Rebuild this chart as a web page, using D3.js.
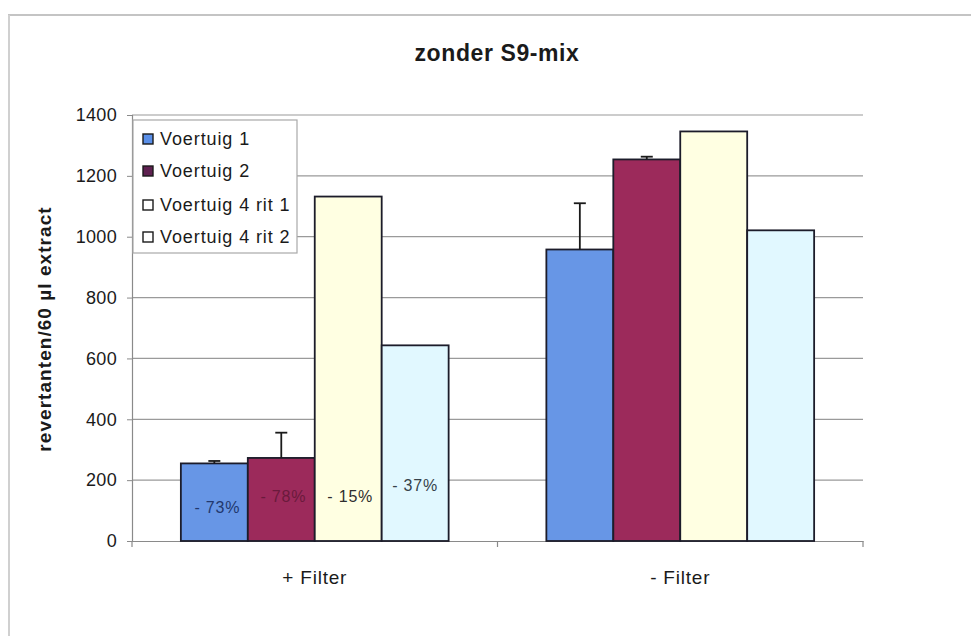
<!DOCTYPE html>
<html>
<head>
<meta charset="utf-8">
<script src="https://cdn.jsdelivr.net/npm/d3@7"></script>
<style>
  html, body { margin: 0; padding: 0; background: #fff; }
  svg { display: block; font-family: "Liberation Sans", Arial, sans-serif; }
</style>
</head>
<body>
<svg id="chart" width="971" height="636"></svg>
<script>
// Revertanten per 60 µl extract, with and without filter
const categories = ["+ Filter", "- Filter"];
const seriesNames = ["Voertuig 1", "Voertuig 2", "Voertuig 4 rit 1", "Voertuig 4 rit 2"];
const voertuig1 = [255, 958];
const voertuig2 = [273, 1254];
const voertuig4rit1 = [1132, 1346];
const voertuig4rit2 = [643, 1021];
// upper end of the error bar (null = no error bar)
const voertuig1Err = [263, 1110];
const voertuig2Err = [356, 1263];
const voertuig4rit1Err = [null, null];
const voertuig4rit2Err = [null, null];
// reduction labels shown in the "+ Filter" group
const reductionLabels = ["- 73%", "- 78%", "- 15%", "- 37%"];
const yTicks = [0, 200, 400, 600, 800, 1000, 1200, 1400];

const seriesValues = [voertuig1, voertuig2, voertuig4rit1, voertuig4rit2];
const seriesErr = [voertuig1Err, voertuig2Err, voertuig4rit1Err, voertuig4rit2Err];
const barFill = ["#6796e6", "#9c2a5b", "#ffffe2", "#e1f8ff"];
const legendFill = ["#5a8fe8", "#5e2150", "#ffffff", "#ffffff"];
const labelColor = ["#22386e", "#6a1a3c", "#2e2e2e", "#36424a"];

const svg = d3.select("#chart");

const plot = { left: 132, right: 863, top: 115, bottom: 541 };

const x0 = d3.scaleBand().domain(categories).range([plot.left, plot.right]).padding(0);
const x1 = d3.scaleBand().domain(seriesNames).range([0, x0.bandwidth()])
  .paddingInner(0).paddingOuter(0.73);
const y = d3.scaleLinear().domain([0, 1400]).range([plot.bottom, plot.top]);

// outer chart frame
svg.append("line").attr("x1", 8).attr("x2", 971).attr("y1", 15).attr("y2", 15)
  .attr("stroke", "#c4c4c4").attr("stroke-width", 2);
svg.append("line").attr("x1", 9).attr("x2", 9).attr("y1", 15).attr("y2", 636)
  .attr("stroke", "#d0d0d0").attr("stroke-width", 2);

// title
svg.append("text").attr("x", 497).attr("y", 61).attr("text-anchor", "middle")
  .attr("font-size", 23).attr("font-weight", "bold").attr("letter-spacing", 0.6)
  .attr("fill", "#1a1a1a").text("zonder S9-mix");

// gridlines
svg.append("g").selectAll("line").data(yTicks.filter(d => d > 0)).join("line")
  .attr("x1", plot.left).attr("x2", plot.right)
  .attr("y1", d => y(d)).attr("y2", d => y(d))
  .attr("stroke", "#9a9a9a").attr("stroke-width", 1.2);

// y axis
const yAxis = d3.axisLeft(y).tickValues(yTicks).tickSize(5).tickPadding(10).tickFormat(d3.format("d"));
const gy = svg.append("g").attr("transform", `translate(${plot.left},0)`).call(yAxis);
gy.select(".domain").attr("stroke", "#8a8a8a").attr("stroke-width", 1.2);
gy.selectAll(".tick line").attr("stroke", "#8a8a8a");
gy.selectAll(".tick text").attr("font-size", 18).attr("letter-spacing", 0.3)
  .attr("fill", "#1a1a1a").attr("font-family", "Liberation Sans, Arial, sans-serif");

// x axis
const xAxis = d3.axisBottom(x0).tickSize(0).tickPadding(30);
const gx = svg.append("g").attr("transform", `translate(0,${plot.bottom})`).call(xAxis);
gx.select(".domain").attr("stroke", "#8a8a8a").attr("stroke-width", 1.2);
gx.selectAll(".tick text").attr("font-size", 19).attr("letter-spacing", 0.8)
  .attr("fill", "#1a1a1a").attr("font-family", "Liberation Sans, Arial, sans-serif");
// category separators on the x axis
svg.append("g").selectAll("line")
  .data([plot.left, x0(categories[1]), plot.right]).join("line")
  .attr("x1", d => d).attr("x2", d => d)
  .attr("y1", plot.bottom).attr("y2", plot.bottom + 6)
  .attr("stroke", "#8a8a8a").attr("stroke-width", 1.2);

// y axis label
svg.append("text")
  .attr("transform", `translate(51,${(plot.top + plot.bottom) / 2 + 1}) rotate(-90)`)
  .attr("text-anchor", "middle").attr("font-size", 19).attr("font-weight", "bold")
  .attr("letter-spacing", 1.05).attr("fill", "#1a1a1a")
  .text("revertanten/60 µl extract");

// bars
const bars = [];
seriesNames.forEach((s, si) => {
  categories.forEach((c, ci) => {
    bars.push({ series: s, si, cat: c, ci, value: seriesValues[si][ci], err: seriesErr[si][ci] });
  });
});

svg.append("g").selectAll("rect").data(bars).join("rect")
  .attr("x", d => x0(d.cat) + x1(d.series))
  .attr("y", d => y(d.value))
  .attr("width", x1.bandwidth())
  .attr("height", d => y(0) - y(d.value))
  .attr("fill", d => barFill[d.si])
  .attr("stroke", "#1c1c2a").attr("stroke-width", 1.8);

// error bars (upper only)
const errs = bars.filter(d => d.err != null);
const eg = svg.append("g").attr("stroke", "#1a1a1a").attr("stroke-width", 1.8);
eg.selectAll("line.stem").data(errs).join("line").attr("class", "stem")
  .attr("x1", d => x0(d.cat) + x1(d.series) + x1.bandwidth() / 2)
  .attr("x2", d => x0(d.cat) + x1(d.series) + x1.bandwidth() / 2)
  .attr("y1", d => y(d.value)).attr("y2", d => y(d.err));
eg.selectAll("line.cap").data(errs).join("line").attr("class", "cap")
  .attr("x1", d => x0(d.cat) + x1(d.series) + x1.bandwidth() / 2 - 6)
  .attr("x2", d => x0(d.cat) + x1(d.series) + x1.bandwidth() / 2 + 6)
  .attr("y1", d => y(d.err)).attr("y2", d => y(d.err));

// reduction labels in the "+ Filter" group (vertical placement in axis units)
const labelY = [112, 145, 148, 184];
const labelDx = [3, 2, 2, 0];
svg.append("g").selectAll("text").data(reductionLabels).join("text")
  .attr("x", (d, i) => x0(categories[0]) + x1(seriesNames[i]) + x1.bandwidth() / 2 + labelDx[i])
  .attr("y", (d, i) => y(labelY[i]))
  .attr("dy", "0.35em")
  .attr("text-anchor", "middle")
  .attr("font-size", 16).attr("letter-spacing", 0.8)
  .attr("fill", (d, i) => labelColor[i])
  .text(d => d);

// legend
const lg = svg.append("g");
lg.append("rect").attr("x", 133).attr("y", 120).attr("width", 164).attr("height", 133)
  .attr("fill", "#fff").attr("stroke", "#a8a8a8").attr("stroke-width", 1.2);
const rowY = [139, 171, 205, 237];
const items = lg.selectAll("g.item").data(seriesNames).join("g").attr("class", "item")
  .attr("transform", (d, i) => `translate(0,${rowY[i]})`);
items.append("rect").attr("x", 143).attr("y", -5).attr("width", 10).attr("height", 10)
  .attr("fill", (d, i) => legendFill[i])
  .attr("stroke", "#1a1a1a").attr("stroke-width", 1.4);
items.append("text").attr("x", 160).attr("dy", "0.35em")
  .attr("font-size", 18).attr("letter-spacing", 0.9).attr("fill", "#1a1a1a")
  .text(d => d);
</script>
</body>
</html>
